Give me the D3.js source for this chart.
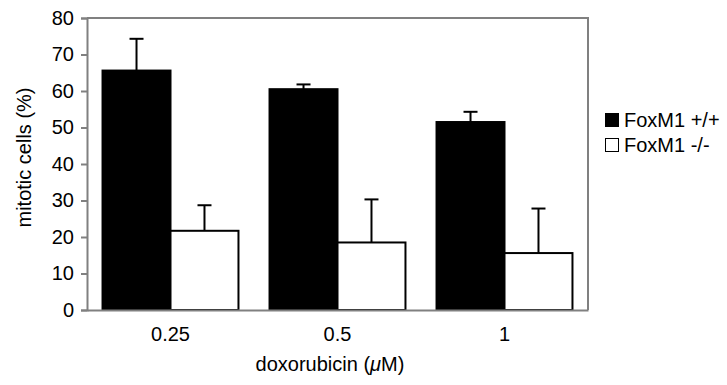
<!DOCTYPE html>
<html>
<head>
<meta charset="utf-8">
<script src="https://cdn.jsdelivr.net/npm/d3@7"></script>
<style>
  body { margin: 0; background: #fff; }
  svg { display: block; font-family: "Liberation Sans", Arial, sans-serif; }
</style>
</head>
<body>
<div id="chart"></div>
<script>
// doses and series (mitotic cells %, upper error)
const doses = ['0.25', '0.5', '1'];
const series = ['FoxM1 +/+', 'FoxM1 -/-'];
const wildType = [65.6, 60.5, 51.5];
const wildTypeErr = [8.7, 1.3, 2.8];
const knockOut = [21.7, 18.5, 15.6];
const knockOutErr = [7.0, 11.8, 12.2];
const yTicks = [0, 10, 20, 30, 40, 50, 60, 70, 80];

const width = 727;
const height = 385;
const margin = { top: 18, right: 139, bottom: 75, left: 87 };
const fontSize = 20;
const axisGrey = '#808080';

const svg = d3.select('#chart')
  .append('svg')
  .attr('width', width)
  .attr('height', height);

const x0 = d3.scaleBand()
  .domain(doses)
  .range([margin.left, width - margin.right])
  .paddingInner(0.186)
  .paddingOuter(0.093);

const x1 = d3.scaleBand()
  .domain(series)
  .range([0, x0.bandwidth()]);

const y = d3.scaleLinear()
  .domain([0, 80])
  .range([height - margin.bottom, margin.top]);

const fills = { 'FoxM1 +/+': '#000', 'FoxM1 -/-': '#fff' };

const rows = [];
doses.forEach((d, i) => {
  rows.push({ dose: d, key: series[0], value: wildType[i], err: wildTypeErr[i] });
  rows.push({ dose: d, key: series[1], value: knockOut[i], err: knockOutErr[i] });
});

// frame: top and right lines
svg.append('line')
  .attr('x1', margin.left).attr('x2', width - margin.right)
  .attr('y1', y(80)).attr('y2', y(80))
  .attr('stroke', axisGrey).attr('stroke-width', 2);
svg.append('line')
  .attr('x1', width - margin.right).attr('x2', width - margin.right)
  .attr('y1', y(80) - 1).attr('y2', y(0))
  .attr('stroke', axisGrey).attr('stroke-width', 2);

// error bars (upward only)
const capHalf = 7;
const errs = svg.append('g').attr('stroke', '#000').attr('stroke-width', 2);
rows.forEach(r => {
  const cx = x0(r.dose) + x1(r.key) + x1.bandwidth() / 2;
  errs.append('line')
    .attr('x1', cx).attr('x2', cx)
    .attr('y1', y(r.value)).attr('y2', y(r.value + r.err));
  errs.append('line')
    .attr('x1', cx - capHalf).attr('x2', cx + capHalf)
    .attr('y1', y(r.value + r.err)).attr('y2', y(r.value + r.err));
});

// bars
svg.append('g')
  .selectAll('rect')
  .data(rows)
  .join('rect')
  .attr('x', d => x0(d.dose) + x1(d.key))
  .attr('y', d => y(d.value))
  .attr('width', x1.bandwidth())
  .attr('height', d => y(0) - y(d.value))
  .attr('fill', d => fills[d.key])
  .attr('stroke', '#000')
  .attr('stroke-width', 2);

// y axis
const yAxis = d3.axisLeft(y).tickValues(yTicks).tickSizeOuter(0).tickSize(6).tickPadding(7);
const gy = svg.append('g')
  .attr('transform', `translate(${margin.left},0)`)
  .call(yAxis);
gy.select('.domain').attr('stroke', axisGrey).attr('stroke-width', 2);
gy.selectAll('.tick line').attr('stroke', axisGrey).attr('stroke-width', 2);
gy.selectAll('.tick text')
  .attr('font-size', fontSize)
  .attr('font-family', '"Liberation Sans", Arial, sans-serif')
  .attr('fill', '#000');

// x axis
const xAxis = d3.axisBottom(x0).tickSize(0).tickPadding(17);
const gx = svg.append('g')
  .attr('transform', `translate(0,${y(0)})`)
  .call(xAxis);
gx.select('.domain').attr('stroke', axisGrey).attr('stroke-width', 2);
gx.selectAll('.tick text')
  .attr('font-size', fontSize)
  .attr('font-family', '"Liberation Sans", Arial, sans-serif')
  .attr('fill', '#000');

// axis titles
svg.append('text')
  .attr('x', 330)
  .attr('y', 371)
  .attr('text-anchor', 'middle')
  .attr('font-size', fontSize)
  .html('doxorubicin (<tspan font-style="italic">μ</tspan>M)');

svg.append('text')
  .attr('transform', 'translate(31,157.5) rotate(-90)')
  .attr('text-anchor', 'middle')
  .attr('font-size', fontSize)
  .text('mitotic cells (%)');

// legend
const legend = svg.append('g')
  .attr('transform', 'translate(605,113)');
series.forEach((s, i) => {
  const g = legend.append('g').attr('transform', `translate(0,${i * 25})`);
  g.append('rect')
    .attr('x', 0.5).attr('y', 0.5)
    .attr('width', 13).attr('height', 13)
    .attr('fill', fills[s])
    .attr('stroke', '#000')
    .attr('stroke-width', 1);
  g.append('text')
    .attr('x', 19)
    .attr('y', 14)
    .attr('font-size', fontSize)
    .text(s);
});
</script>
</body>
</html>
